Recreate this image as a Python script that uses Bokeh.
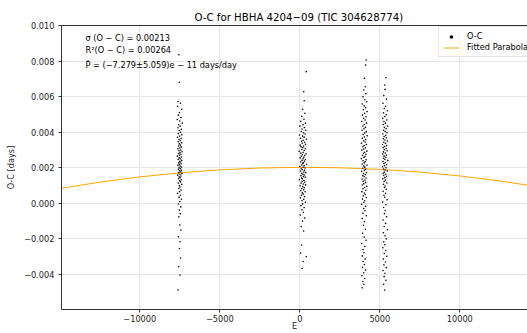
from bokeh.plotting import figure
from bokeh.models import (Range1d, FixedTicker, CustomJSTickFormatter, Legend,
                          LegendItem, Label, LinearAxis, ColumnDataSource)
from bokeh.embed import file_html
from bokeh.resources import INLINE

# ---------------- data (E = cycle number, O-C in units of 1e-3 days) ----------------
cluster_a = [
    (-7560, 8.35), (-7540, 6.80), (-7610, 5.70), (-7460, 5.62), (-7640, 5.45), (-7380, 5.28),
    (-7520, 5.10), (-7590, 4.95), (-7430, 4.82), (-7660, 4.70), (-7500, 4.62), (-7350, 4.50),
    (-7570, 4.41), (-7480, 4.33), (-7620, 4.24), (-7400, 4.15), (-7530, 4.08), (-7450, 3.98),
    (-7590, 3.91), (-7370, 3.84), (-7510, 3.77), (-7640, 3.70), (-7420, 3.64), (-7550, 3.58),
    (-7480, 3.51), (-7600, 3.45), (-7390, 3.39), (-7530, 3.33), (-7460, 3.27), (-7570, 3.21),
    (-7410, 3.16), (-7500, 3.10), (-7620, 3.05), (-7440, 2.99), (-7550, 2.94), (-7360, 2.89),
    (-7490, 2.84), (-7580, 2.79), (-7430, 2.74), (-7520, 2.69), (-7650, 2.64), (-7400, 2.59),
    (-7540, 2.54), (-7470, 2.49), (-7600, 2.45), (-7380, 2.40), (-7510, 2.35), (-7450, 2.31),
    (-7560, 2.26), (-7420, 2.21), (-7530, 2.17), (-7620, 2.12), (-7480, 2.08), (-7390, 2.03),
    (-7550, 1.99), (-7460, 1.94), (-7590, 1.90), (-7410, 1.85), (-7520, 1.81), (-7440, 1.76),
    (-7570, 1.71), (-7370, 1.66), (-7500, 1.62), (-7630, 1.57), (-7430, 1.52), (-7540, 1.47),
    (-7470, 1.42), (-7580, 1.37), (-7400, 1.31), (-7510, 1.25), (-7450, 1.19), (-7600, 1.12),
    (-7380, 1.05), (-7530, 0.98), (-7490, 0.90), (-7560, 0.82), (-7420, 0.73), (-7510, 0.64),
    (-7640, 0.54), (-7460, 0.44), (-7550, 0.33), (-7400, 0.21), (-7500, 0.08), (-7590, -0.06),
    (-7440, -0.22), (-7530, -0.40), (-7470, -0.60), (-7560, -0.78), (-7500, -1.24), (-7430, -1.52),
    (-7590, -1.90), (-7480, -2.18), (-7520, -2.56), (-7460, -3.10), (-7570, -3.59), (-7490, -4.06),
    (-7610, -4.90),
]

cluster_b = [
    (400, 7.40), (250, 6.27), (275, 5.76), (180, 5.28), (320, 5.05), (120, 4.88), (260, 4.72),
    (60, 4.60), (350, 4.50), (200, 4.41), (10, 4.33), (290, 4.25), (140, 4.17), (380, 4.10),
    (90, 4.03), (230, 3.96), (330, 3.89), (-20, 3.83), (170, 3.77), (270, 3.71), (50, 3.65),
    (410, 3.59), (210, 3.53), (110, 3.48), (300, 3.42), (150, 3.37), (360, 3.31), (20, 3.26),
    (240, 3.21), (80, 3.16), (190, 3.11), (340, 3.06), (130, 3.01), (280, 2.96), (-40, 2.91),
    (220, 2.86), (70, 2.81), (390, 2.77), (160, 2.72), (310, 2.67), (100, 2.63), (250, 2.58),
    (30, 2.54), (200, 2.49), (350, 2.45), (140, 2.40), (290, 2.36), (60, 2.31), (230, 2.27),
    (180, 2.23), (420, 2.18), (120, 2.14), (270, 2.10), (0, 2.05), (210, 2.01), (330, 1.97),
    (90, 1.93), (160, 1.88), (300, 1.84), (40, 1.80), (250, 1.75), (370, 1.71), (130, 1.67),
    (190, 1.62), (280, 1.58), (70, 1.54), (230, 1.49), (340, 1.45), (110, 1.40), (170, 1.36),
    (-30, 1.31), (260, 1.27), (150, 1.22), (310, 1.17), (80, 1.12), (220, 1.07), (360, 1.02),
    (20, 0.97), (190, 0.92), (280, 0.86), (120, 0.81), (240, 0.75), (60, 0.69), (330, 0.63),
    (160, 0.57), (210, 0.50), (100, 0.43), (290, 0.36), (40, 0.29), (250, 0.21), (140, 0.13),
    (350, 0.04), (180, -0.05), (70, -0.15), (270, -0.26), (130, -0.38), (220, -0.52), (30, -0.68),
    (310, -0.85), (170, -1.02), (90, -1.33), (240, -1.58), (120, -2.37), (45, -2.82), (400, -3.02),
    (210, -3.30), (150, -3.68),
]

cluster_c = [
    (4150, 8.06), (4110, 7.77), (4040, 7.02), (4090, 6.55), (4000, 6.37), (4130, 6.15), (3950, 5.98),
    (4060, 5.82), (4180, 5.70), (3900, 5.58), (4020, 5.47), (4110, 5.36), (3970, 5.25), (4200, 5.15),
    (4050, 5.05), (3920, 4.95), (4140, 4.86), (3990, 4.77), (4080, 4.68), (3870, 4.59), (4170, 4.50),
    (4030, 4.42), (3940, 4.34), (4100, 4.26), (4010, 4.18), (3890, 4.10), (4150, 4.02), (4060, 3.94),
    (3960, 3.86), (4220, 3.79), (4040, 3.72), (3910, 3.65), (4120, 3.58), (3990, 3.51), (4080, 3.44),
    (3860, 3.37), (4160, 3.30), (4020, 3.24), (3940, 3.17), (4100, 3.11), (4000, 3.04), (3880, 2.98),
    (4190, 2.92), (4050, 2.86), (3970, 2.80), (4130, 2.74), (3920, 2.68), (4070, 2.62), (4010, 2.56),
    (3850, 2.50), (4150, 2.44), (3950, 2.38), (4090, 2.32), (4030, 2.26), (3900, 2.20), (4200, 2.14),
    (3990, 2.08), (4060, 2.02), (3930, 1.96), (4120, 1.90), (4040, 1.84), (3870, 1.78), (4170, 1.72),
    (3980, 1.66), (4090, 1.60), (3940, 1.54), (4020, 1.48), (4140, 1.41), (3890, 1.35), (4070, 1.29),
    (3960, 1.22), (4110, 1.15), (4000, 1.08), (3910, 1.01), (4180, 0.94), (4050, 0.87), (3950, 0.80),
    (4130, 0.72), (3880, 0.64), (4030, 0.56), (4090, 0.48), (3970, 0.40), (4160, 0.31), (3920, 0.22),
    (4060, 0.13), (4000, 0.03), (3860, -0.08), (4110, -0.19), (3990, -0.31), (4070, -0.44),
    (3940, -0.58), (4150, -0.72), (3900, -0.88), (4040, -1.05), (3980, -1.25), (4100, -1.48),
    (3930, -1.70), (4020, -1.92), (4140, -2.10), (3870, -2.28), (4060, -2.45), (3950, -2.62),
    (4010, -2.80), (3900, -2.98), (4080, -3.15), (3960, -3.30), (4030, -3.47), (3920, -3.62),
    (4110, -3.78), (3990, -3.93), (3880, -4.10), (4050, -4.25), (3940, -4.42), (4000, -4.58),
    (3900, -4.78),
]

cluster_d = [
    (5380, 7.06), (5300, 6.65), (5330, 6.40), (5250, 6.05), (5420, 5.85), (5200, 5.62), (5360, 5.45),
    (5280, 5.32), (5470, 5.20), (5230, 5.08), (5400, 4.97), (5310, 4.87), (5180, 4.77), (5440, 4.68),
    (5260, 4.59), (5350, 4.50), (5210, 4.42), (5490, 4.34), (5290, 4.26), (5390, 4.18), (5240, 4.10),
    (5330, 4.03), (5450, 3.96), (5190, 3.89), (5370, 3.82), (5270, 3.75), (5410, 3.68), (5220, 3.62),
    (5320, 3.55), (5480, 3.49), (5250, 3.42), (5360, 3.36), (5170, 3.30), (5430, 3.24), (5300, 3.18),
    (5210, 3.12), (5390, 3.06), (5280, 3.00), (5460, 2.94), (5230, 2.88), (5340, 2.82), (5190, 2.76),
    (5410, 2.70), (5270, 2.64), (5380, 2.58), (5240, 2.52), (5320, 2.46), (5500, 2.40), (5200, 2.34),
    (5350, 2.28), (5260, 2.22), (5430, 2.16), (5300, 2.10), (5180, 2.04), (5390, 1.98), (5230, 1.92),
    (5330, 1.86), (5470, 1.80), (5280, 1.74), (5210, 1.68), (5370, 1.62), (5250, 1.56), (5420, 1.50),
    (5310, 1.43), (5190, 1.36), (5350, 1.29), (5270, 1.21), (5440, 1.13), (5230, 1.05), (5330, 0.96),
    (5290, 0.87), (5400, 0.77), (5210, 0.66), (5360, 0.55), (5260, 0.44), (5310, 0.32), (5450, 0.18),
    (5180, 0.05), (5380, -0.10), (5240, -0.25), (5340, -0.42), (5290, -0.60), (5420, -0.78),
    (5200, -0.96), (5360, -1.15), (5270, -1.32), (5480, -1.50), (5220, -1.68), (5330, -1.85),
    (5400, -2.02), (5250, -2.18), (5310, -2.35), (5190, -2.52), (5370, -2.68), (5280, -2.84),
    (5440, -3.00), (5230, -3.16), (5350, -3.32), (5260, -3.48), (5410, -3.64), (5200, -3.80),
    (5320, -3.96), (5270, -4.15), (5380, -4.35), (5240, -4.58), (5300, -4.90),
]

# fitted parabola (E, O-C in 1e-3 days)
fit_E = [-15000, -12500, -10000, -7500, -5000, -2500, 0, 2500, 5000, 7500, 10000, 12500, 15000]
fit_oc = [0.815, 1.174, 1.470, 1.700, 1.868, 1.971, 2.010, 1.985, 1.895, 1.742, 1.524, 1.242, 0.897]

x_ticks = [-10000, -5000, 0, 5000, 10000]
y_ticks = [-0.004, -0.002, 0.0, 0.002, 0.004, 0.006, 0.008, 0.010]

title_text = "O-C for HBHA 4204\u221209 (TIC 304628774)"
stats_lines = [
    "\u03c3 (O \u2212 C) = 0.00213",
    "R\u00b2(O \u2212 C) = 0.00264",
    "\u1e56 = (\u22127.279\u00b15.059)e \u2212 11 days/day",
]

# ---------------- build ----------------
points = cluster_a + cluster_b + cluster_c + cluster_d
src = ColumnDataSource(dict(E=[e for e, _ in points], oc=[v * 1e-3 for _, v in points]))
fit_src = ColumnDataSource(dict(E=fit_E, oc=[v * 1e-3 for v in fit_oc]))

FONT = "DejaVu Sans"

p = figure(width=527, height=333, output_backend="svg", toolbar_location=None,
           x_range=Range1d(-14894, 14231), y_range=Range1d(-0.006, 0.010),
           min_border_left=61, min_border_right=0, min_border_top=25, min_border_bottom=24,
           background_fill_color="white", border_fill_color="white")
p.outline_line_color = None

p.title.text = title_text
p.title.align = "left"
p.title.offset = 133
p.title.text_font = FONT
p.title.text_font_size = "10.2px"
p.title.text_font_style = "normal"
p.title.text_color = "black"
p.title.standoff = 6

line_r = p.line("E", "oc", source=fit_src, line_color="#FFA500", line_width=1)
sc_r = p.scatter("E", "oc", source=src, marker="circle", size=1.6,
                 fill_color="black", line_color=None)

xa = p.below[0]
ya = p.left[0]
xa.ticker = FixedTicker(ticks=x_ticks)
ya.ticker = FixedTicker(ticks=y_ticks)
xa.formatter = CustomJSTickFormatter(code="return tick.toFixed(0).replace('-', '\u2212');")
ya.formatter = CustomJSTickFormatter(code="return tick.toFixed(3).replace('-', '\u2212');")
for ax in (xa, ya):
    ax.axis_line_color = "#333333"
    ax.axis_line_width = 1
    ax.major_tick_line_color = "#333333"
    ax.major_tick_out = 3
    ax.major_tick_in = 0
    ax.minor_tick_line_color = None
    ax.major_label_text_font = FONT
    ax.major_label_text_font_size = "8.2px"
    ax.major_label_text_color = "#222222"
    ax.axis_label_text_font = FONT
    ax.axis_label_text_font_size = "8.2px"
    ax.axis_label_text_font_style = "normal"
    ax.axis_label_text_color = "#222222"
ya.major_label_standoff = 4
ya.axis_label = "O-C [days]"
ya.axis_label_standoff = 5
xa.major_label_standoff = 2
xa.axis_label = "E"
xa.axis_label_standoff = -4

top_axis = LinearAxis(ticker=FixedTicker(ticks=[]), major_label_text_font_size="0px",
                      major_tick_out=0, major_tick_in=0, minor_tick_out=0, minor_tick_in=0,
                      axis_line_color="#333333", axis_line_width=1, major_label_standoff=0)
p.add_layout(top_axis, "above")

p.xgrid.ticker = FixedTicker(ticks=x_ticks)
p.ygrid.ticker = FixedTicker(ticks=y_ticks)
p.grid.grid_line_color = "#e6e6e6"
p.grid.grid_line_width = 1

stat_y = [0.009307, 0.008592, 0.007786]
for txt, yy in zip(stats_lines, stat_y):
    p.add_layout(Label(x=-13390, y=yy, text=txt, text_align="left",
                       text_baseline="middle", text_font=FONT,
                       text_font_size="8.2px", text_color="black"))

legend = Legend(items=[LegendItem(label="O-C", renderers=[sc_r]),
                       LegendItem(label="Fitted Parabola", renderers=[line_r])],
                location=(377, 252))
legend.label_text_font = FONT
legend.label_text_font_size = "8.2px"
legend.label_text_color = "black"
legend.glyph_width = 16
legend.glyph_height = 9
legend.label_height = 9
legend.label_standoff = 8
legend.spacing = 1
legend.padding = 4
legend.margin = 0
legend.border_line_color = "#cccccc"
legend.border_line_width = 1
legend.background_fill_alpha = 0.8
p.add_layout(legend)

open("out.html", "w").write(file_html(p, INLINE))
